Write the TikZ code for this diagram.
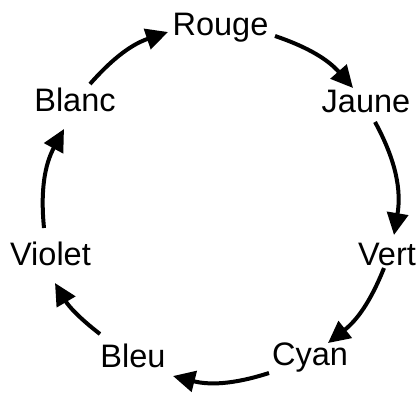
\documentclass[tikz,border=0pt]{standalone}
\usepackage{fontspec}
\setmainfont{Liberation Sans}
\usetikzlibrary{arrows.meta}
\begin{document}
\begin{tikzpicture}[x=1pt,y=1pt,
  lbl/.style={anchor=base,inner sep=0pt,font=\fontsize{32.5}{38}\selectfont},
  arr/.style={line width=4pt,-{Triangle[length=22pt,width=21pt]}}]
\useasboundingbox (0,0) rectangle (420,-392);
\node[lbl] (rouge)  at (220.5,-35) {Rouge};
\node[lbl] (jaune)  at (366,-112) {Jaune};
\node[lbl] (blanc)  at (75,-111) {Blanc};
\node[lbl] (violet) at (50.5,-265) {Violet};
\node[lbl] (vert)   at (387,-265) {Vert};
\node[lbl] (cyan)   at (310,-365) {Cyan};
\node[lbl] (bleu)   at (133,-367) {Bleu};
\draw[arr] ([shift={(15,27)}]blanc.base) to[bend left=15] ([shift={(-52.5,3)}]rouge.base);
\draw[arr] ([shift={(54.5,-1)}]rouge.base) to[bend left=15] ([shift={(-13,24)}]jaune.base);
\draw[arr] ([shift={(9,-10)}]jaune.base) to[bend left=19] ([shift={(7,30)}]vert.base);
\draw[arr] ([shift={(-3,-3)}]vert.base) to[bend left=15] ([shift={(18,22)}]cyan.base);
\draw[arr] ([shift={(-41,-8)}]cyan.base) to[bend left=16] ([shift={(40,-9)}]bleu.base);
\draw[arr] ([shift={(-33,33)}]bleu.base) to[bend left=11] ([shift={(4.5,-18)}]violet.base);
\draw[arr] ([shift={(-6.5,37)}]violet.base) to[bend left=17] ([shift={(-11,-18)}]blanc.base);
\end{tikzpicture}
\end{document}
